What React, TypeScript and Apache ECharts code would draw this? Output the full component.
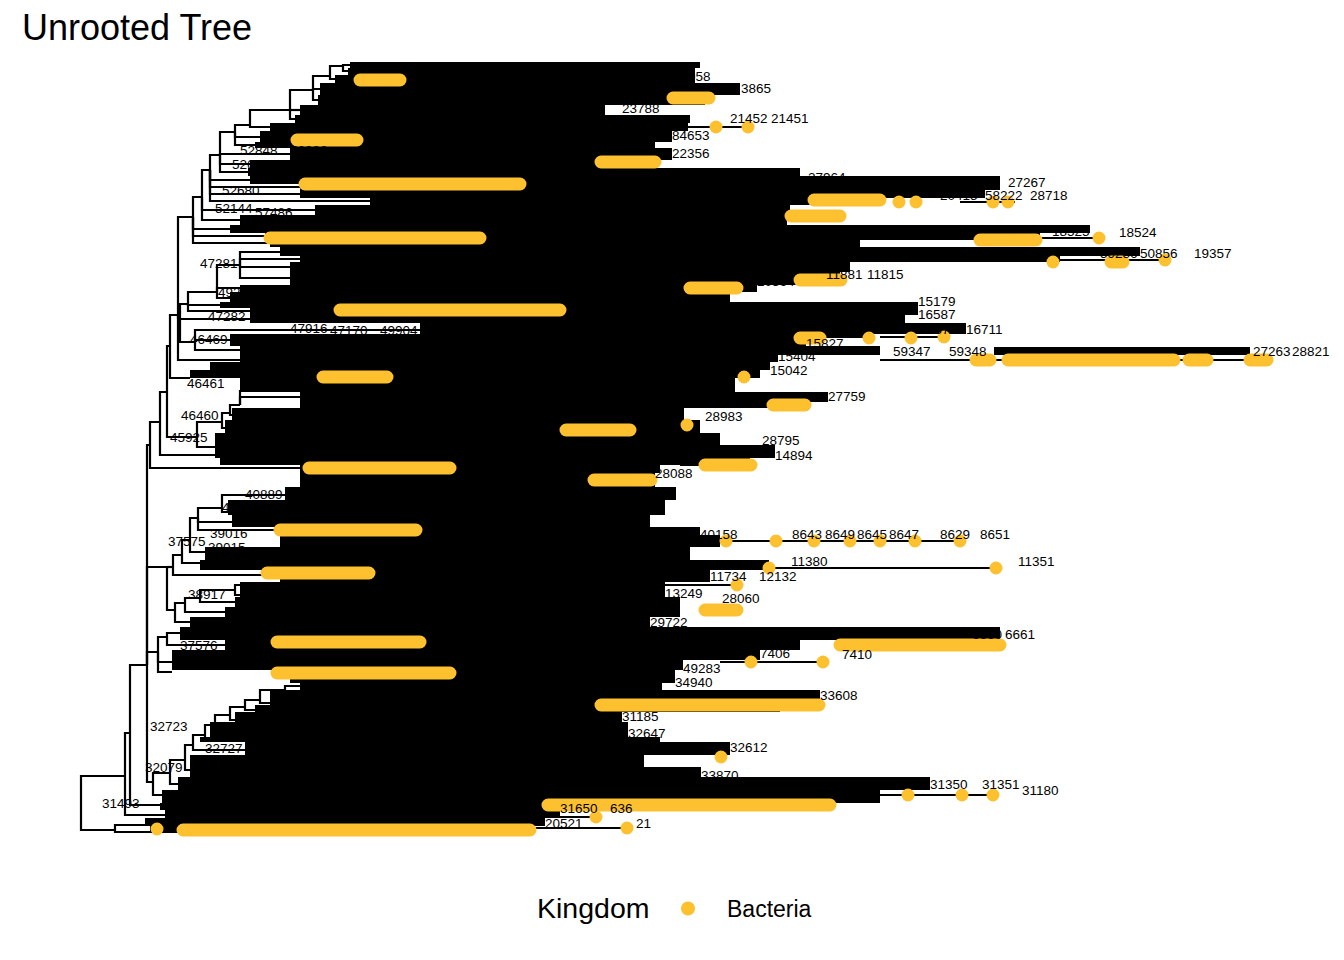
import React, { useEffect, useRef } from "react";
import * as echarts from "echarts";

const FONT = '"Liberation Sans", Arial, Helvetica, sans-serif';
const YELLOW = "#FDC02F";

// Internal nodes of the tree: [id, parent, distance from root, tip rank]
const internalNodes: [string, string | null, number, number][] = [
  ["r", null, 1, 744],
  ["b1", "r", 35, 770],
  ["a1", "r", 45, 716],
  ["a2", "a1", 50, 673],
  ["a3", "a2", 67, 605],
  ["W", "a3", 73, 722],
  ["W1", "W", 90, 713],
  ["W2", "W1", 105, 700],
  ["W3", "W2", 113, 685],
  ["W4", "W3", 125, 675],
  ["W5", "W4", 135, 665],
  ["W6", "W5", 150, 655],
  ["W7", "W6", 165, 647],
  ["W8", "W7", 180, 640],
  ["W9", "W8", 205, 630],
  ["V", "a3", 78, 592],
  ["V1", "V", 87, 577],
  ["X", "a3", 87, 507],
  ["X1", "X", 93, 507],
  ["X2", "X1", 102, 495],
  ["X3", "X2", 110, 480],
  ["X4", "X3", 118, 458],
  ["X5", "X4", 142, 448],
  ["X6", "X", 95, 550],
  ["X8", "X6", 105, 543],
  ["X9", "X8", 120, 538],
  ["X7", "X9", 155, 530],
  ["U", "a3", 70, 385],
  ["P", "U", 80, 362],
  ["Q", "P", 87, 332],
  ["S", "Q", 117, 377],
  ["S1", "S", 142, 362],
  ["S2", "S1", 150, 353],
  ["S3", "S2", 160, 345],
  ["R", "Q", 90, 286],
  ["N47281", "R", 98, 255],
  ["N47282", "N47281", 100, 258],
  ["N188", "N47282", 108, 244],
  ["N217", "N188", 137, 232],
  ["N240", "N217", 160, 205],
  ["N195", "N47282", 115, 282],
  ["N193", "N47281", 113, 157],
  ["N202", "N193", 122, 137],
  ["N210", "N202", 130, 110],
  ["N220", "N210", 140, 95],
  ["N235", "N220", 155, 72],
  ["N250", "N235", 170, 65],
  ["N290", "N250", 210, 50],
  ["N313", "N290", 233, 30],
  ["N330", "N313", 250, 16],
  ["N343", "N330", 263, 6],
];

// Branches leading into collapsed label clouds: [parent, distance, rank]
const leafBranches: [string, number, number][] = [
  ["b1", 70, 772], ["b1", 65, 765], ["a1", 85, 755], ["a2", 80, 745],
  ["W", 82, 735], ["W1", 98, 724], ["W2", 110, 710], ["W3", 165, 690],
  ["W4", 130, 680], ["W5", 142, 670], ["W6", 155, 660], ["W7", 175, 650],
  ["W8", 190, 643], ["W9", 210, 634], ["W9", 220, 626],
  ["V", 92, 612], ["V", 92, 602], ["V1", 145, 585], ["V1", 100, 573],
  ["X1", 200, 515], ["X2", 120, 503], ["X3", 125, 492], ["X4", 200, 470],
  ["X4", 152, 462], ["X5", 205, 435], ["X5", 148, 452],
  ["X6", 110, 562], ["X8", 145, 552], ["X9", 155, 542], ["X7", 160, 525], ["X7", 165, 535],
  ["U", 220, 408], ["P", 135, 395], ["S", 135, 387], ["S1", 145, 368],
  ["S2", 152, 355], ["S3", 220, 337], ["S3", 160, 330], ["R", 110, 318],
  ["N47281", 160, 300], ["N188", 170, 251], ["N188", 140, 245],
  ["N217", 160, 228], ["N217", 150, 238],
  ["N240", 200, 192], ["N240", 220, 199], ["N240", 210, 207], ["N240", 210, 218],
  ["N195", 340, 270], ["N195", 150, 280], ["N195", 160, 290], ["N47282", 170, 259],
  ["N193", 150, 169], ["N193", 185, 176], ["N193", 190, 183],
  ["N202", 160, 160], ["N202", 235, 150],
  ["N210", 170, 120], ["N210", 220, 127], ["N210", 220, 134], ["N210", 290, 141],
  ["N220", 168, 112], ["N220", 170, 104], ["N220", 210, 94],
  ["N235", 180, 77], ["N235", 175, 85], ["N250", 190, 67],
  ["N290", 215, 59], ["N290", 220, 50], ["N313", 238, 40], ["N313", 240, 29],
  ["N330", 255, 19], ["N343", 270, 5], ["N343", 268, 11],
];

// Dense overlapping tip-label clouds: [rank top, rank bottom, dist from, dist to]
const labelClouds: [number, number, number, number][] = [
  [2, 8, 270, 620], [8, 15, 268, 615], [15, 23, 255, 615], [23, 35, 240, 660],
  [35, 45, 238, 625], [45, 55, 220, 525], [55, 63, 215, 610], [63, 71, 190, 608],
  [71, 82, 180, 592], [82, 88, 175, 575], [88, 100, 210, 592], [100, 108, 170, 575],
  [108, 116, 168, 720], [116, 124, 170, 920], [124, 130, 220, 920], [130, 138, 220, 905],
  [138, 145, 290, 800], [145, 155, 235, 710], [155, 165, 160, 707], [165, 173, 150, 1010],
  [173, 180, 185, 960], [180, 187, 190, 780], [187, 196, 200, 1060], [196, 202, 220, 980],
  [202, 212, 210, 770], [212, 225, 210, 760], [225, 232, 160, 677], [232, 242, 150, 650],
  [242, 248, 140, 838], [248, 255, 170, 838], [255, 263, 170, 825], [263, 274, 340, 886],
  [274, 278, 150, 790], [278, 286, 150, 726], [286, 295, 160, 800], [287, 295, 914, 1170],
  [295, 302, 160, 698], [302, 310, 130, 690], [310, 318, 110, 680], [318, 332, 160, 655],
  [332, 342, 220, 748], [342, 348, 220, 700], [348, 360, 152, 604], [360, 373, 145, 620],
  [373, 385, 135, 640], [385, 398, 135, 695], [398, 405, 140, 670], [405, 413, 220, 580],
  [413, 427, 220, 575], [427, 440, 205, 596], [440, 455, 148, 585], [455, 467, 152, 570],
  [467, 475, 200, 620], [475, 487, 200, 640], [487, 500, 125, 610], [500, 510, 120, 689],
  [510, 522, 200, 630], [522, 537, 160, 585], [537, 547, 155, 600], [547, 557, 145, 600],
  [557, 567, 110, 570], [567, 580, 100, 920], [580, 590, 145, 720], [590, 600, 92, 680],
  [600, 610, 92, 603], [610, 623, 210, 595], [623, 630, 220, 582], [630, 645, 190, 740],
  [645, 652, 175, 700], [652, 662, 155, 542], [662, 677, 130, 548], [677, 682, 120, 580],
  [682, 695, 165, 650], [695, 707, 110, 564], [707, 717, 110, 621], [717, 730, 98, 850],
  [730, 743, 82, 800], [743, 750, 80, 504], [750, 758, 85, 480], [758, 766, 65, 465],
  [766, 773, 70, 450],
];

// Long tip branches that stick out of the clouds: [dist from, dist to, rank]
const tipBranches: [number, number, number][] = [
  [560, 668, 67], [880, 935, 142], [960, 1019, 178], [980, 1085, 200], [680, 761, 220],
  [800, 1187, 300], [580, 657, 228], [600, 671, 405], [560, 880, 481], [609, 916, 508],
  [580, 657, 525], [840, 920, 585], [640, 743, 602], [660, 739, 645], [770, 913, 735],
  [424, 547, 768], [400, 516, 757], [800, 864, 277], [668, 725, 345], [520, 607, 365],
];

// Bacteria tip points (runs of overlapping points): [rank, dist from, dist to]
const bacteriaTips: [number, number, number][] = [
  [20, 280, 320], [38, 593, 629], [67, 636, 636], [67, 668, 668], [80, 217, 277],
  [102, 521, 575], [124, 225, 440], [140, 734, 800], [142, 819, 819], [142, 836, 836],
  [142, 913, 913], [142, 928, 928], [156, 711, 760], [178, 190, 400], [180, 900, 956],
  [178, 1019, 1019], [202, 973, 973], [202, 1031, 1043], [200, 1085, 1085], [220, 720, 761],
  [228, 610, 657], [250, 260, 480], [278, 720, 740], [278, 789, 789], [278, 831, 831],
  [277, 864, 864], [300, 896, 910], [300, 928, 1094], [300, 1109, 1127], [300, 1170, 1187],
  [317, 243, 307], [317, 664, 664], [345, 693, 725], [365, 607, 607], [370, 486, 550],
  [405, 625, 671], [408, 229, 370], [420, 514, 571], [470, 200, 336], [481, 646, 646],
  [481, 696, 696], [481, 734, 734], [481, 770, 770], [481, 800, 800], [481, 835, 835],
  [481, 880, 880], [508, 689, 689], [508, 916, 916], [513, 187, 289], [525, 657, 657],
  [550, 625, 657], [582, 197, 340], [585, 760, 920], [602, 671, 671], [602, 743, 743],
  [613, 197, 370], [645, 521, 739], [697, 641, 641], [735, 828, 828], [735, 882, 882],
  [735, 913, 913], [745, 468, 750], [757, 516, 516], [768, 547, 547], [770, 103, 450],
  [769, 77, 77],
];

// Readable tip labels: [text, dist, rank]
const tipLabels: [string, number, number][] = [
  ["20058", 593, 16], ["3865", 661, 28], ["23788", 542, 48], ["21452", 650, 58],
  ["21451", 691, 58], ["84653", 592, 75], ["22356", 592, 93], ["27964", 728, 117],
  ["22786", 875, 122], ["27267", 928, 122], ["20415", 860, 135], ["58222", 905, 135],
  ["28718", 950, 135], ["18525", 972, 171], ["18524", 1039, 172], ["59286", 1020, 193],
  ["50856", 1060, 193], ["19357", 1114, 193], ["11881", 746, 214], ["11815", 787, 214],
  ["20364", 677, 221], ["15179", 838, 241], ["16587", 838, 254], ["16710", 847, 269],
  ["16711", 886, 269], ["15827", 726, 283], ["59347", 813, 291], ["59348", 869, 291],
  ["27263", 1173, 291], ["28821", 1212, 291], ["15404", 698, 296], ["15042", 690, 310],
  ["27759", 748, 336], ["28983", 625, 356], ["28795", 682, 380], ["14894", 695, 395],
  ["28088", 575, 413], ["40158", 620, 474], ["8643", 712, 474], ["8649", 745, 474],
  ["8645", 777, 474], ["8647", 809, 474], ["8629", 860, 474], ["8651", 900, 474],
  ["11380", 711, 501], ["11351", 938, 501], ["11734", 630, 516], ["12132", 679, 516],
  ["13249", 585, 533], ["28060", 642, 538], ["29722", 570, 562], ["6660", 892, 574],
  ["6661", 925, 574], ["7406", 680, 593], ["7410", 762, 594], ["49283", 603, 608],
  ["34940", 595, 622], ["33608", 740, 635], ["31185", 542, 656], ["32647", 548, 673],
  ["32612", 650, 687], ["33870", 621, 715], ["31350", 850, 724], ["31351", 902, 724],
  ["31180", 942, 730], ["31650", 480, 748], ["636", 530, 748], ["20521", 465, 763],
  ["21", 556, 763],
];

// Internal node labels: [text, dist, rank]
const nodeLabels: [string, number, number][] = [
  ["52848", 160, 90], ["56986", 210, 90], ["52691", 152, 104], ["52680", 142, 130],
  ["52144", 135, 148], ["57486", 175, 152], ["47281", 120, 203], ["49295", 138, 232],
  ["47282", 128, 256], ["47916", 210, 268], ["47170", 250, 270], ["49904", 300, 270],
  ["48888", 340, 266], ["46469", 110, 279], ["46461", 107, 323], ["46460", 101, 355],
  ["45925", 90, 377], ["40889", 165, 434], ["40340", 142, 447], ["44258", 155, 460],
  ["39016", 130, 473], ["37575", 88, 481], ["39015", 128, 487], ["38917", 108, 534],
  ["37576", 100, 585], ["32723", 70, 666], ["32727", 125, 688], ["32079", 65, 707],
  ["31493", 22, 743],
];

function buildEdges(): number[][] {
  const pos = new Map<string, [number, number]>();
  internalNodes.forEach(([id, , d, r]) => pos.set(id, [d, r]));
  const edges: number[][] = [];
  internalNodes.forEach(([, parent, d, r]) => {
    if (parent) {
      const p = pos.get(parent)!;
      edges.push([p[0], p[1], d, r]);
    }
  });
  leafBranches.forEach(([parent, d, r]) => {
    const p = pos.get(parent)!;
    edges.push([p[0], p[1], d, r]);
  });
  return edges;
}

export default function App() {
  const ref = useRef<HTMLDivElement>(null);

  useEffect(() => {
    document.body.style.margin = "0";
    if (!ref.current) return;
    const chart = echarts.init(ref.current, undefined, { renderer: "svg" });
    const allLabels = [...nodeLabels, ...tipLabels];

    const option: any = {
      animation: false,
      backgroundColor: "#ffffff",
      title: {
        text: "Unrooted Tree",
        left: 22,
        top: 9,
        padding: 0,
        textStyle: { fontSize: 36, fontWeight: "normal", color: "#000", fontFamily: FONT },
      },
      legend: {
        data: [{ name: "Bacteria", icon: "circle", itemStyle: { color: YELLOW } }],
        left: 681,
        top: 897,
        padding: 0,
        itemWidth: 14,
        itemHeight: 14,
        selectedMode: false,
        textStyle: { fontSize: 23, color: "#000", fontFamily: FONT, padding: [0, 0, 0, 27] },
      },
      graphic: [
        {
          type: "text",
          x: 537,
          y: 908,
          style: {
            text: "Kingdom",
            fill: "#000",
            font: `28.5px ${FONT}`,
            align: "left",
            verticalAlign: "middle",
          },
        },
      ],
      grid: { left: 0, right: 0, top: 0, bottom: 0 },
      xAxis: { type: "value", min: -80, max: 1264, show: false },
      yAxis: { type: "value", inverse: true, min: -60, max: 900, show: false },
      series: [
        {
          type: "custom",
          name: "clouds",
          silent: true,
          z: 1,
          data: labelClouds,
          renderItem: (_p: any, api: any) => {
            const a = api.coord([api.value(2), api.value(0)]);
            const b = api.coord([api.value(3), api.value(1)]);
            return {
              type: "rect",
              shape: { x: a[0], y: a[1], width: b[0] - a[0], height: b[1] - a[1] },
              style: { fill: "#000" },
            };
          },
        },
        {
          type: "custom",
          name: "branches",
          silent: true,
          z: 2,
          data: buildEdges(),
          renderItem: (_p: any, api: any) => {
            const a = api.coord([api.value(0), api.value(1)]);
            const b = api.coord([api.value(0), api.value(3)]);
            const c = api.coord([api.value(2), api.value(3)]);
            return {
              type: "polyline",
              shape: { points: [a, b, c] },
              style: { stroke: "#000", lineWidth: 2.2, fill: null },
            };
          },
        },
        {
          type: "custom",
          name: "tips",
          silent: true,
          z: 2,
          data: tipBranches,
          renderItem: (_p: any, api: any) => {
            const a = api.coord([api.value(0), api.value(2)]);
            const b = api.coord([api.value(1), api.value(2)]);
            return {
              type: "line",
              shape: { x1: a[0], y1: a[1], x2: b[0], y2: b[1] },
              style: { stroke: "#000", lineWidth: 2 },
            };
          },
        },
        {
          type: "custom",
          name: "Bacteria",
          silent: true,
          z: 3,
          itemStyle: { color: YELLOW },
          data: bacteriaTips,
          renderItem: (_p: any, api: any) => {
            const a = api.coord([api.value(1), api.value(0)]);
            const b = api.coord([api.value(2), api.value(0)]);
            const s = 13;
            return {
              type: "rect",
              shape: { x: a[0] - s / 2, y: a[1] - s / 2, width: b[0] - a[0] + s, height: s, r: s / 2 },
              style: { fill: YELLOW },
            };
          },
        },
        {
          type: "custom",
          name: "labels",
          silent: true,
          z: 4,
          data: allLabels.map((l) => [l[1], l[2]]),
          renderItem: (params: any, api: any) => {
            const p = api.coord([api.value(0), api.value(1)]);
            return {
              type: "text",
              x: p[0],
              y: p[1],
              style: {
                text: allLabels[params.dataIndex][0],
                fill: "#000",
                font: `13.5px ${FONT}`,
                align: "left",
                verticalAlign: "middle",
              },
            };
          },
        },
      ],
    };

    chart.setOption(option);
    return () => chart.dispose();
  }, []);

  return <div ref={ref} style={{ width: 1344, height: 960 }} />;
}
